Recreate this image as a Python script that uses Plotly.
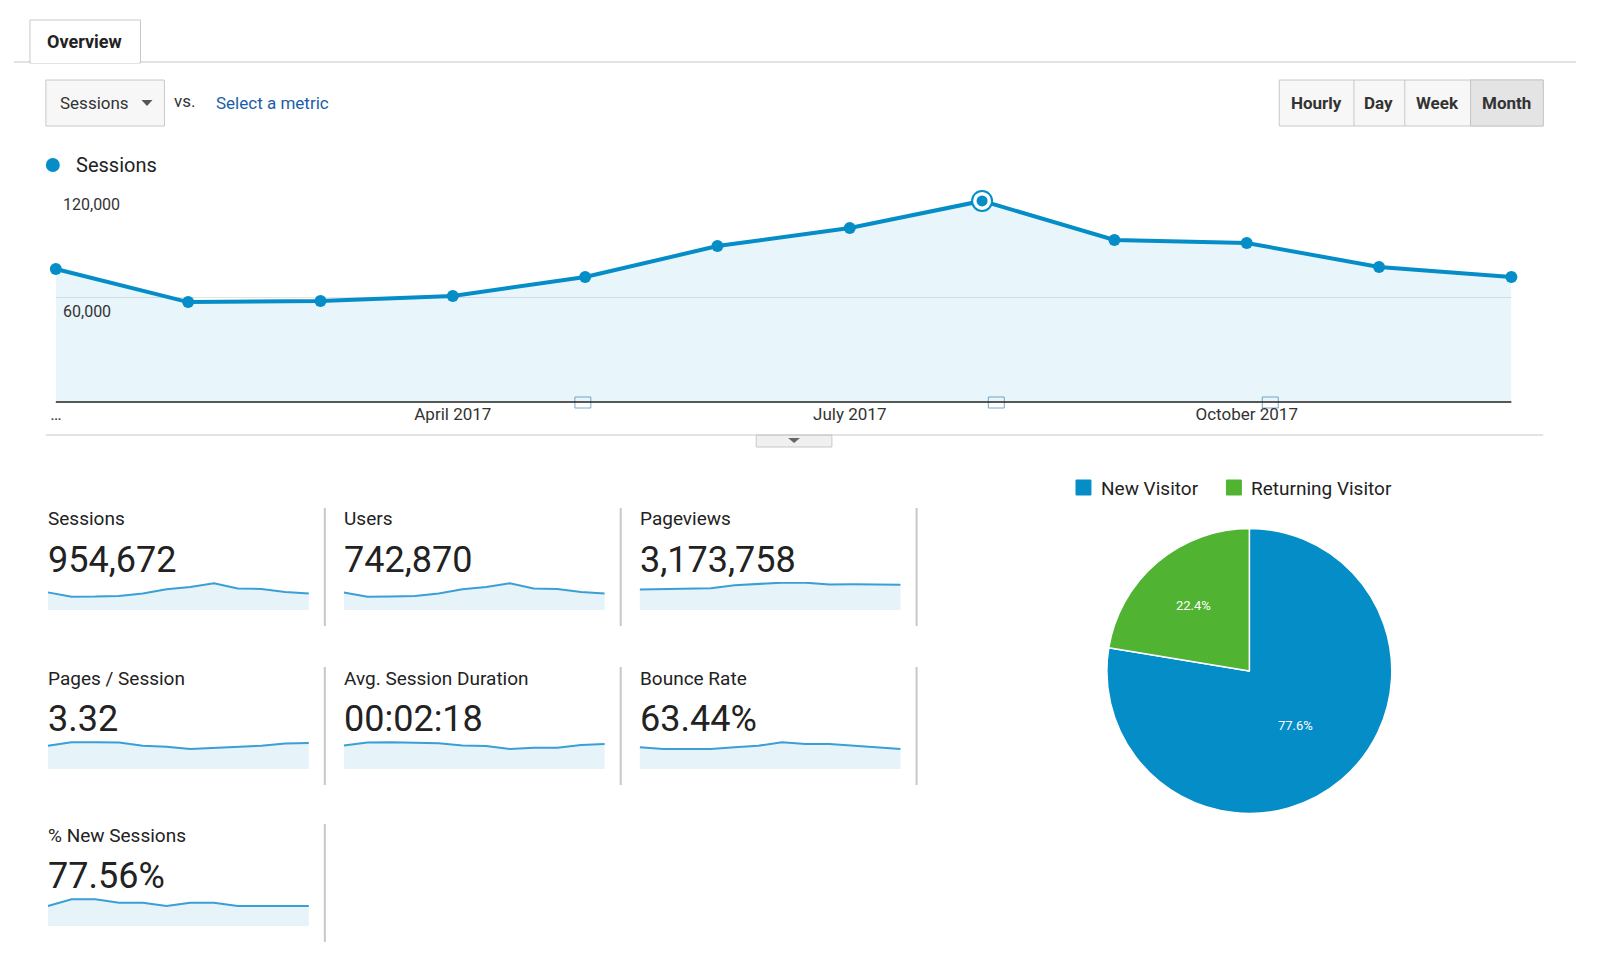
import plotly.graph_objects as go

W, H = 1600, 962

months = ["Jan 2017", "Feb 2017", "Mar 2017", "Apr 2017", "May 2017", "Jun 2017",
          "Jul 2017", "Aug 2017", "Sep 2017", "Oct 2017", "Nov 2017", "Dec 2017"]
sessions = [76000, 57100, 57700, 60600, 71400, 89100, 99400, 114900, 92600, 90900, 77100, 71400]
users = [59000, 44500, 45000, 47200, 55700, 69500, 77500, 89600, 72200, 70900, 60100, 55700]
pageviews = [230000, 232000, 235000, 240000, 265000, 275000, 285000, 285000, 270000, 272000, 270000, 268000]
pages_session = [3.30, 3.45, 3.45, 3.44, 3.30, 3.25, 3.15, 3.20, 3.23, 3.30, 3.40, 3.42]
avg_duration = [130, 140, 141, 140, 138, 130, 128, 118, 122, 122, 132, 135]
bounce_rate = [63.5, 63.4, 63.4, 63.4, 63.5, 63.6, 63.8, 63.7, 63.7, 63.6, 63.5, 63.4]
new_sessions = [77.5, 77.7, 77.7, 77.6, 77.6, 77.5, 77.6, 77.6, 77.5, 77.5, 77.5, 77.5]
tick_idx = [0, 3, 6, 9]
tick_text = ["…", "April 2017", "July 2017", "October 2017"]
pie_labels = ["New Visitor", "Returning Visitor"]
pie_values = [77.6, 22.4]

BLUE = "#058dc7"
GREEN = "#50b432"
FILL = "rgba(5,141,199,0.10)"
FONT = "Roboto"

def px(x):
    return x / W

def py(y):
    return 1 - y / H

fig = go.Figure()
annotations = []
shapes = []

def text(x, y, s, size=18, color="#222", anchor="left", weight=None):
    if weight:
        s = "<b>" + s + "</b>"
    annotations.append(dict(x=px(x), y=py(y), xref="paper", yref="paper", text=s, showarrow=False,
                            xanchor=anchor, yanchor="middle", font=dict(family=FONT, size=size, color=color)))

def rect(x0, y0, x1, y1, line="#cfcfcf", fill=None, width=1):
    shapes.append(dict(type="rect", xref="paper", yref="paper", x0=px(x0), x1=px(x1), y0=py(y0), y1=py(y1),
                       line=dict(color=line, width=width), fillcolor=fill, layer="below"))

def line(x0, y0, x1, y1, color="#cfcfcf", width=1):
    shapes.append(dict(type="line", xref="paper", yref="paper", x0=px(x0), x1=px(x1), y0=py(y0), y1=py(y1),
                       line=dict(color=color, width=width)))

# main chart
fig.add_trace(go.Scatter(x=list(range(len(months))), y=sessions, mode="lines+markers", fill="tozeroy",
                         fillcolor="rgba(5,141,199,0.09)", line=dict(color=BLUE, width=4),
                         marker=dict(size=12, color=BLUE), cliponaxis=False, showlegend=False,
                         text=months, hoverinfo="text+y"))
peak = sessions.index(max(sessions))
fig.add_trace(go.Scatter(x=[peak], y=[sessions[peak]], mode="markers", cliponaxis=False, showlegend=False,
                         marker=dict(size=20, color="white", line=dict(color=BLUE, width=2))))
fig.add_trace(go.Scatter(x=[peak], y=[sessions[peak]], mode="markers", cliponaxis=False, showlegend=False,
                         marker=dict(size=11, color=BLUE)))

layout = dict(
    xaxis=dict(domain=[px(42), px(1503)], range=[0, len(months) - 1], tickvals=tick_idx, ticktext=tick_text,
               showgrid=False, zeroline=False, showline=False, ticks="",
               tickfont=dict(family=FONT, size=17, color="#333"), anchor="y"),
    yaxis=dict(domain=[py(394), py(184)], range=[0, 120000], tickvals=[60000, 120000], showticklabels=False,
               gridcolor="#e3e3e3", zeroline=False, anchor="x"),
)

# sparklines
sparks = [
    ("Sessions", "954,672", sessions, 0, 0),
    ("Users", "742,870", users, 1, 0),
    ("Pageviews", "3,173,758", pageviews, 2, 0),
    ("Pages / Session", "3.32", pages_session, 0, 1),
    ("Avg. Session Duration", "00:02:18", avg_duration, 1, 1),
    ("Bounce Rate", "63.44%", bounce_rate, 2, 1),
    ("% New Sessions", "77.56%", new_sessions, 0, 2),
]
col_x = [32, 329, 626]
row_y = [511, 670, 827]
for i, (label, value, series, c, r) in enumerate(sparks):
    n = i + 2
    x0 = col_x[c] + 2
    top = row_y[r] + 63
    lo, hi = min(series), max(series)
    span = hi - lo
    if label in ("Sessions", "Users", "Pageviews"):
        rng = [0, hi * 1.05] if label != "Pageviews" else [lo - 3 * span, hi + 0.1 * span]
    else:
        rng = [lo - 3 * span, hi + 0.2 * span]
    fig.add_trace(go.Scatter(x=list(range(len(series))), y=series, mode="lines", fill="tozeroy",
                             fillcolor="rgba(5,141,199,0.10)", line=dict(color="#3a9fd6", width=2),
                             xaxis="x%d" % n, yaxis="y%d" % n, showlegend=False, hoverinfo="skip"))
    layout["xaxis%d" % n] = dict(domain=[px(x0), px(x0 + 262)], range=[0, len(series) - 1], visible=False,
                                 anchor="y%d" % n)
    layout["yaxis%d" % n] = dict(domain=[py(top + 28), py(top)], range=rng, visible=False, anchor="x%d" % n)
    text(col_x[c], row_y[r], label, size=19, color="#222")
    text(col_x[c], row_y[r] + 41, value, size=36, color="#222")

for c in range(3):
    for r in range(3):
        if r == 2 and c > 0:
            continue
        line(col_x[c] + 280, row_y[r] - 11, col_x[c] + 280, row_y[r] + 107, color="#c8c8c8", width=2)

# pie
fig.add_trace(go.Pie(labels=pie_labels, values=pie_values, sort=False, direction="clockwise",
                     marker=dict(colors=[BLUE, GREEN], line=dict(color="white", width=1.5)),
                     textinfo="percent", texttemplate="%{percent:.1%}", textposition="inside",
                     insidetextfont=dict(family=FONT, size=13, color="white"), showlegend=False,
                     domain=dict(x=[px(1097), px(1383)], y=[py(806), py(520)])))
rect(1066, 472, 1081, 487, line=BLUE, fill=BLUE)
text(1089, 480, "New Visitor", size=19)
rect(1217, 472, 1232, 487, line=GREEN, fill=GREEN)
text(1240, 480, "Returning Visitor", size=19)

# UI chrome
line(0, 54, 1568, 54, color="#c8c8c8")
rect(16, 12, 127, 55, line="#c8c8c8", fill="white")
line(17, 54, 126, 54, color="white", width=2)
text(71, 34, "Overview", size=18, anchor="center", weight=True)

rect(32, 72, 151, 118, line="#c8c8c8", fill="#f7f7f7")
text(44, 95, "Sessions", size=17, color="#333")
shapes.append(dict(type="path", xref="paper", yref="paper",
                   path="M %f %f L %f %f L %f %f Z" % (px(128), py(92), px(139), py(92), px(133.5), py(98)),
                   fillcolor="#555", line=dict(width=0)))
text(159, 93, "vs.", size=17, color="#333")
text(201, 95, "Select a metric", size=17, color="#1a5ea8")

rect(1270, 72, 1535, 118, line="#c8c8c8", fill="#f7f7f7")
rect(1462, 72, 1535, 118, line="#c8c8c8", fill="#e4e4e4")
for xd in [1345, 1396, 1462]:
    line(xd, 72, xd, 118, color="#c8c8c8")
for lbl, xc in [("Hourly", 1307), ("Day", 1370), ("Week", 1429), ("Month", 1498)]:
    text(xc, 95, lbl, size=17, color="#333", anchor="center", weight=True)

shapes.append(dict(type="circle", xref="paper", yref="paper", x0=px(32), x1=px(46), y0=py(164), y1=py(150),
                   fillcolor=BLUE, line=dict(width=0)))
text(60, 157, "Sessions", size=20)
text(47, 197, "120,000", size=16, color="#333")
text(47, 303, "60,000", size=16, color="#333")
line(42, 394, 1503, 394, color="#222", width=1.5)
line(32, 427, 1535, 427, color="#c8c8c8")
rect(745, 427, 821, 439, line="#c8c8c8", fill="#f0f0f0")
shapes.append(dict(type="path", xref="paper", yref="paper",
                   path="M %f %f L %f %f L %f %f Z" % (px(777), py(430), px(789), py(430), px(783), py(435)),
                   fillcolor="#666", line=dict(width=0)))
for xa in [571, 986, 1261]:
    rect(xa - 8, 389, xa + 8, 400, line="#7aa7c7", fill="white")

layout.update(width=W, height=H, margin=dict(l=0, r=0, t=0, b=0), plot_bgcolor="white", paper_bgcolor="white",
              annotations=annotations, shapes=shapes, font=dict(family=FONT))
fig.update_layout(**layout)
fig.write_html("out.html")
